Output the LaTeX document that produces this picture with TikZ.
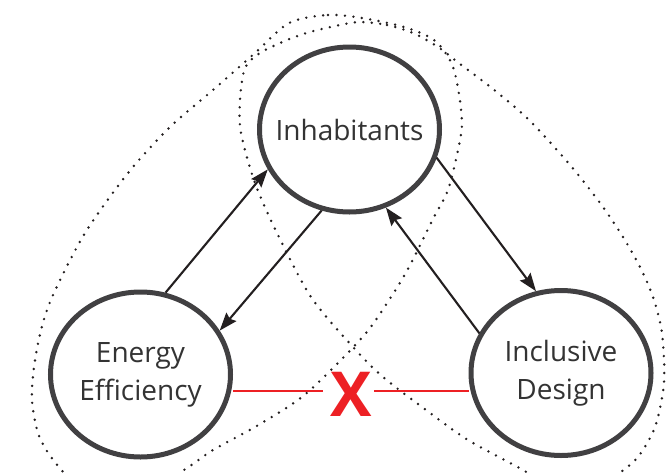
\documentclass[tikz,border=0pt]{standalone}
\usepackage{fontspec}
\setmainfont{Open Sans}
\usetikzlibrary{arrows.meta,shapes.geometric}
\definecolor{ringgray}{HTML}{414042}
\definecolor{inkdark}{HTML}{231F20}
\definecolor{textgray}{HTML}{333333}
\definecolor{crossred}{HTML}{ED2024}

\begin{document}
\begin{tikzpicture}[x=1pt,y=-1pt,
  member/.style={ellipse, draw=ringgray, line width=5pt, fill=white,
    minimum width=180pt, minimum height=165pt, inner sep=0pt},
  membertext/.style={align=center, text=textgray, inner sep=0pt,
    font=\fontsize{28}{38}\selectfont},
  flow/.style={draw=inkdark, line width=2.1pt,
    -{Stealth[length=18pt,width=13pt,inset=2.5pt]}},
  conflict/.style={draw=crossred, line width=2.2pt},
  grouping/.style={draw=inkdark, line width=2.7pt, line cap=round,
    dash pattern=on 0pt off 8.5pt}
]
\useasboundingbox (0,0) rectangle (667,472);

% dotted groupings: Inhabitants + Energy Efficiency, Inhabitants + Inclusive Design
\begin{scope}
  \clip (0,0) rectangle (667,472);
  \draw[grouping] plot[smooth cycle] coordinates {
    (289,23) (328,15) (362,18) (404,27) (434,40) (451,62) (458,88)
    (462,123) (458,150) (448,190) (434,217) (409,267) (391,297) (366,333)
    (328,373) (298,400) (255,427) (213,450) (187,468) (150,490)
    (110,497) (75,483) (51,457) (38,433) (32,400) (34,367) (41,330)
    (53,295) (85,233) (128,173) (170,127) (213,90) (255,53)};
  \draw[grouping] plot[smooth cycle] coordinates {
    (360,22) (387,25) (413,33) (438,47) (460,64) (493,89) (527,118)
    (557,150) (580,177) (603,207) (623,237) (640,267) (653,297)
    (662,333) (664,383) (655,427) (638,457)
    (621,472) (600,490) (570,495) (545,484) (523,470) (468,440)
    (426,410) (383,377) (353,347) (311,297) (277,233) (255,183)
    (241,133) (240,100) (245,68) (260,53) (287,40) (310,32) (340,25)};
\end{scope}

% actors
\node[member, label={[membertext]center:Inhabitants}] (inh) at (349.5,129.5) {};
\node[member, label={[membertext]center:Energy\\Efficiency}] (eff) at (140.5,374.5) {};
\node[member, label={[membertext]center:Inclusive\\Design}] (inc) at (561,373) {};

% relations
\draw[flow] (eff.73) -- (inh.206);
\draw[flow] (inh.251) -- (eff.29);
\draw[flow] (inh.342) -- (inc.107);
\draw[flow] (inc.154) -- (inh.295);

% no link between efficiency and inclusive design
\node[text=crossred, inner sep=0pt, font=\fontsize{62}{62}\selectfont\bfseries]
  (veto) at (351.5,394.5) {X};
\coordinate (vetoL) at (323,391);
\coordinate (vetoR) at (374,391);
\draw[conflict] (eff.east |- vetoL) -- (vetoL);
\draw[conflict] (vetoR) -- (inc.west |- vetoR);
\end{tikzpicture}
\end{document}
